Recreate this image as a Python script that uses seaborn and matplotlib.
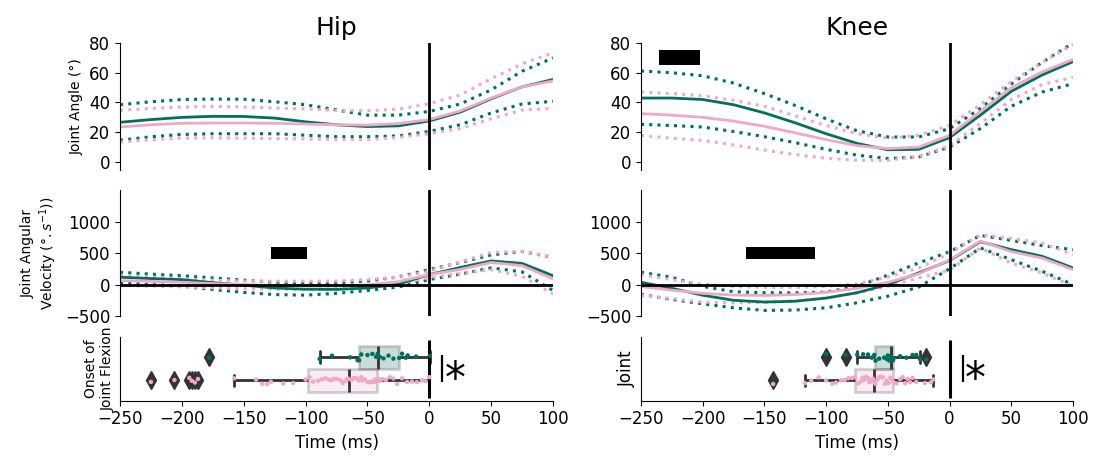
import numpy as np
import pandas as pd
import matplotlib
matplotlib.use("Agg")
import matplotlib.pyplot as plt
import seaborn as sns

# ---------------- data ----------------
time_ms = [-250, -225, -200, -175, -150, -125, -100, -75, -50, -25, 0, 25, 50, 75, 100]

# Hip joint angle (deg)
hip_ang_teal_mean = [26.7, 28.5, 30.0, 30.7, 30.6, 29.5, 27.0, 25.0, 23.8, 24.3, 27.6, 33.5, 42.5, 50.5, 55.5]
hip_ang_teal_up = [38.5, 40.5, 42.0, 42.3, 42.2, 40.5, 38.5, 35.0, 31.5, 31.5, 34.0, 39.0, 48.5, 61.0, 70.0]
hip_ang_teal_lo = [14.6, 17.0, 18.5, 19.0, 19.0, 19.0, 18.0, 17.0, 17.0, 17.5, 20.6, 25.0, 33.0, 39.0, 40.8]
hip_ang_pink_mean = [23.5, 25.0, 26.0, 26.2, 26.2, 26.0, 25.5, 25.0, 24.8, 25.8, 28.5, 34.3, 43.0, 50.5, 54.5]
hip_ang_pink_up = [34.7, 36.0, 37.0, 37.4, 37.0, 36.3, 35.8, 34.6, 34.5, 35.5, 39.2, 45.0, 56.0, 66.0, 73.5]
hip_ang_pink_lo = [13.4, 15.0, 16.0, 16.3, 16.0, 15.7, 15.5, 15.2, 15.0, 16.5, 19.0, 22.5, 29.0, 35.0, 36.0]

# Knee joint angle (deg)
knee_ang_teal_mean = [43.0, 43.0, 42.0, 38.5, 33.0, 26.3, 19.0, 12.5, 8.2, 8.5, 16.4, 31.5, 47.5, 58.5, 67.5]
knee_ang_teal_up = [61.2, 60.0, 58.0, 53.0, 46.0, 38.0, 29.0, 21.0, 16.8, 16.8, 22.4, 36.0, 52.5, 67.0, 80.0]
knee_ang_teal_lo = [25.3, 24.5, 23.5, 20.5, 17.0, 13.0, 8.5, 4.6, 2.3, 3.4, 10.0, 22.5, 37.5, 47.0, 52.7]
knee_ang_pink_mean = [32.5, 31.5, 30.0, 27.5, 24.0, 19.6, 15.0, 11.0, 9.0, 10.0, 17.9, 34.0, 50.0, 60.5, 69.0]
knee_ang_pink_up = [47.0, 46.0, 44.5, 41.5, 37.5, 31.0, 24.5, 19.0, 16.0, 17.9, 24.6, 38.5, 54.0, 67.0, 79.0]
knee_ang_pink_lo = [17.9, 16.0, 14.5, 11.5, 8.0, 5.0, 2.5, 1.2, 1.1, 3.8, 10.8, 26.0, 42.0, 52.0, 57.0]

# Hip angular velocity (deg/s)
hip_vel_teal_mean = [116, 95, 78, 30, -10, -55, -75, -78, -55, 5, 158, 270, 375, 335, 140]
hip_vel_teal_up = [195, 165, 140, 105, 70, 35, 26, 26, 55, 120, 237, 350, 470, 525, 430]
hip_vel_teal_lo = [26, 0, -26, -80, -125, -160, -169, -140, -95, -40, 79, 165, 265, 200, -95]
hip_vel_pink_mean = [63, 50, 35, 15, 0, -15, -25, -22, -5, 45, 158, 240, 350, 300, 90]
hip_vel_pink_up = [142, 115, 88, 70, 55, 53, 53, 55, 80, 115, 211, 360, 510, 527, 430]
hip_vel_pink_lo = [-16, -25, -37, -52, -65, -75, -79, -65, -30, 20, 105, 175, 235, 130, -150]

# Knee angular velocity (deg/s)
knee_vel_teal_mean = [36, -60, -170, -250, -278, -265, -215, -130, 0, 185, 380, 680, 554, 448, 264]
knee_vel_teal_up = [195, 115, -30, -115, -130, -132, -120, -30, 148, 343, 520, 780, 701, 617, 553]
knee_vel_teal_lo = [-158, -237, -306, -370, -411, -405, -370, -290, -185, -40, 250, 580, 395, 210, 0]
knee_vel_pink_mean = [-31, -90, -140, -168, -174, -160, -125, -60, 35, 170, 390, 690, 522, 420, 237]
knee_vel_pink_up = [158, 75, 5, -30, -45, -45, -30, 10, 120, 260, 500, 790, 733, 659, 474]
knee_vel_pink_lo = [-174, -222, -280, -290, -285, -260, -215, -135, -26, 104, 230, 580, 340, 185, -26]

# significance bars (ms range, value range)
knee_ang_sig_ms = [-235, -202]
ang_sig_range = [65, 75]
hip_vel_sig_ms = [-128, -99]
knee_vel_sig_ms = [-165, -109]
vel_sig_range = [400, 600]

# Onset of joint flexion (ms)
hip_onset_teal = [-178, -88.6, -78.6, -64, -58, -56.7, -55, -50, -46, -43, -41.7, -40, -37, -33,
                  -29, -24.4, -22, -19, -17.5, -10.7, 0.5]
hip_onset_pink = [-225, -206, -194, -192, -189.5, -187,
                  -157.7, -140, -135, -131, -128, -118, -110, -100, -96.8,
                  -94, -90, -87, -84, -81, -79, -77, -75, -72, -70, -68, -66.5, -65.3,
                  -63, -61, -59, -57, -55, -54, -52, -50, -48, -47, -45, -44, -43, -41,
                  -40, -38, -35, -32, -29, -26, -22, -18, -14, -10, -6, -3, 0]
knee_onset_teal = [-100, -84.3, -74.8, -70, -66, -63, -61, -60, -57, -53, -51, -50, -49, -47.8,
                   -47.5, -47.2, -47, -46.5, -46.2, -45.8, -45.4, -40, -35, -30, -27, -24, -18.9]
knee_onset_pink = [-142.9, -117.2, -112, -106, -100, -95, -92, -88, -85, -82, -79, -76.7, -74, -72,
                   -70.5, -69, -67.5, -66, -65, -64, -63, -62, -61.3, -60, -58.5, -57, -55, -54,
                   -52.5, -51, -49.5, -48, -47, -45.6, -43, -40, -38, -36, -34, -32, -30, -27,
                   -20, -15, -13.2]

groups = ["Group A", "Group B"]
xticks = [-250, -200, -150, -100, -50, 0, 50, 100]
sig_label = "*"

# ---------------- style ----------------
TEAL = "#00705e"
PINK = "#f0a8c8"
sns.set_style("ticks")
plt.rcParams['font.family'] = ['DejaVu Sans']
for k in ["text.color", "axes.labelcolor", "xtick.color", "ytick.color", "axes.edgecolor"]:
    plt.rcParams[k] = "black"
np.random.seed(3)

fig = plt.figure(figsize=(10.94, 4.59), dpi=100)
lefts = [0.1097, 0.5859]
widths = [0.3958, 0.3949]
rows = [(0.6296, 0.2767), (0.3115, 0.2745), (0.1270, 0.1388)]

axes = [[fig.add_axes([lefts[c], rows[r][0], widths[c], rows[r][1]]) for c in range(2)] for r in range(3)]

ang_sets = [
    (hip_ang_teal_mean, hip_ang_teal_up, hip_ang_teal_lo, hip_ang_pink_mean, hip_ang_pink_up, hip_ang_pink_lo),
    (knee_ang_teal_mean, knee_ang_teal_up, knee_ang_teal_lo, knee_ang_pink_mean, knee_ang_pink_up, knee_ang_pink_lo),
]
vel_sets = [
    (hip_vel_teal_mean, hip_vel_teal_up, hip_vel_teal_lo, hip_vel_pink_mean, hip_vel_pink_up, hip_vel_pink_lo),
    (knee_vel_teal_mean, knee_vel_teal_up, knee_vel_teal_lo, knee_vel_pink_mean, knee_vel_pink_up, knee_vel_pink_lo),
]

DOT = (0, (1, 1.7))


def draw_lines(ax, s):
    tm, tu, tl, pm, pu, pl = s
    sns.lineplot(x=time_ms, y=tu, ax=ax, color=TEAL, lw=2.2, ls=DOT)
    sns.lineplot(x=time_ms, y=tl, ax=ax, color=TEAL, lw=2.2, ls=DOT)
    sns.lineplot(x=time_ms, y=pu, ax=ax, color=PINK, lw=2.2, ls=DOT)
    sns.lineplot(x=time_ms, y=pl, ax=ax, color=PINK, lw=2.2, ls=DOT)
    sns.lineplot(x=time_ms, y=tm, ax=ax, color=TEAL, lw=2.0)
    sns.lineplot(x=time_ms, y=pm, ax=ax, color=PINK, lw=2.0)


titles = ["Hip", "Knee"]
for c in range(2):
    # angle row
    ax = axes[0][c]
    draw_lines(ax, ang_sets[c])
    ax.axvline(0, color="black", lw=2)
    ax.set_xlim(-250, 100)
    ax.set_ylim(-5.4, 80)
    ax.set_yticks([0, 20, 40, 60, 80])
    ax.set_xticks([])
    sns.despine(ax=ax, bottom=True)
    ax.tick_params(axis="y", labelsize=12)
    ax.set_title(titles[c], fontsize=18)
    if c == 0:
        ax.set_ylabel("Joint Angle (°)", fontsize=10)
    else:
        ax.fill_between(knee_ang_sig_ms, ang_sig_range[0], ang_sig_range[1], color="black", lw=0)

    # velocity row
    ax = axes[1][c]
    draw_lines(ax, vel_sets[c])
    ax.axvline(0, color="black", lw=2)
    ax.axhline(0, color="black", lw=2)
    sig = hip_vel_sig_ms if c == 0 else knee_vel_sig_ms
    ax.fill_between(sig, vel_sig_range[0], vel_sig_range[1], color="black", lw=0)
    ax.set_xlim(-250, 100)
    ax.set_ylim(-500, 1500)
    ax.set_yticks([-500, 0, 500, 1000])
    ax.set_xticks([])
    sns.despine(ax=ax, bottom=True)
    ax.tick_params(axis="y", labelsize=12)
    if c == 0:
        ax.set_ylabel("Joint Angular\nVelocity ($°.s^{-1}$))", fontsize=10)

# onset row
onsets = [(hip_onset_teal, hip_onset_pink), (knee_onset_teal, knee_onset_pink)]
for c in range(2):
    ax = axes[2][c]
    teal_vals, pink_vals = onsets[c]
    df = pd.DataFrame({
        "Onset": list(teal_vals) + list(pink_vals),
        "Joint": ["Joint"] * (len(teal_vals) + len(pink_vals)),
        "Group": [groups[0]] * len(teal_vals) + [groups[1]] * len(pink_vals),
    })
    sns.boxplot(data=df, x="Onset", y="Joint", hue="Group", hue_order=groups,
                palette=[TEAL, PINK], orient="h", width=0.8, linewidth=2,
                linecolor="#333333", boxprops=dict(alpha=0.22),
                flierprops=dict(marker="d", markerfacecolor="#333333",
                                markeredgecolor="#333333", markersize=9),
                ax=ax, legend=False)
    sns.stripplot(data=df, x="Onset", y="Joint", hue="Group", hue_order=groups,
                  palette=[TEAL, PINK], orient="h", dodge=True, jitter=0.13,
                  size=3.2, ax=ax, legend=False, zorder=3)
    ax.vlines(0, -0.5, 0.5, color="black", lw=2.2)
    # significance marker: bar + star
    ax.vlines(10.5, -0.235, 0.235, color="black", lw=1.6)
    ax.text(21, -0.01, sig_label, fontsize=30, va="center", ha="center")
    ax.set_xlim(-250, 100)
    ax.set_ylim(0.55, -0.55)
    ax.set_yticks([])
    ax.set_xticks(xticks)
    ax.tick_params(axis="x", labelsize=12)
    ax.set_xlabel("Time (ms)", fontsize=12)
    sns.despine(ax=ax)
    if c == 0:
        ax.set_ylabel("Onset of\nJoint Flexion", fontsize=10)
    else:
        ax.set_ylabel("Joint", fontsize=12)

fig.canvas.draw()
# center the star glyph (not its line box) on the axis middle
for c in range(2):
    ax = axes[2][c]
    t = ax.texts[-1]
    bb = t.get_window_extent()
    inv = ax.transData.inverted()
    ax_mid = ax.transData.transform((0, 0))[1]
    # glyph '*' sits in upper part of line box; shift so glyph centre ~ axis centre
    shift_px = bb.height * 0.28
    x0, y0 = ax.transData.transform((21, -0.01))
    t.set_position(inv.transform((x0, y0 - shift_px)))

fig.savefig("out.png", dpi=100)
